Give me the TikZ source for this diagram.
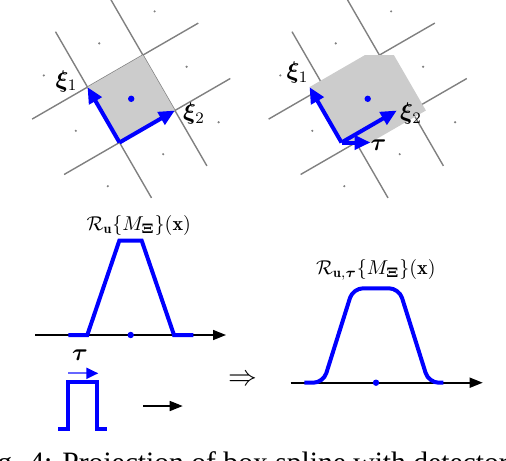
\documentclass[tikz,border=0pt]{standalone}
\usepackage{amsmath}
\usepackage{bm}
\usepackage{fontspec}
\newfontfamily\capfont{Liberation Serif}
\usetikzlibrary{calc}
\usetikzlibrary{arrows.meta}

\begin{document}
\begin{tikzpicture}[x=0.5pt,y=-0.5pt,
  vec/.style={blue,line width=\heavy,-{Triangle[length=8pt,width=7pt]}},
  axis/.style={black,line width=\thin,-{Triangle[length=6.5pt,width=5pt]}},
  curve/.style={blue,line width=\heavy},
  lattice/.style={gray,line width=\light},
  cell/.style={fill=gray!40}]

\def \heavy{2pt}
\def \light{0.7pt}
\def \thin{0.8pt}
\def \dotr{0.6pt}
\def \cdotr{1.6pt}

\useasboundingbox (0,0) rectangle (506,460);

\coordinate (xa) at (-32,-55.4);
\coordinate (xb) at (55.4,-32);
\coordinate (tau) at (29,0);

\coordinate (GL) at (119.5,142.5);
\coordinate (GR) at (356,142.5);
\coordinate (OL) at (GL);
\coordinate (OR) at ($(GR)-0.5*(tau)$);

\foreach \g in {GL,GR} {
  \foreach \k in {0,1} {
    \draw[lattice] ($(\g)+\k*(xa)-(xb)$) -- ($(\g)+\k*(xa)+2*(xb)$);
    \draw[lattice] ($(\g)+\k*(xb)-(xa)$) -- ($(\g)+\k*(xb)+2*(xa)$);
  }
}

\fill[cell] (OL) -- ($(OL)+(xb)$) -- ($(OL)+(xa)+(xb)$) -- ($(OL)+(xa)$) -- cycle;
\fill[cell] (OR) -- ($(OR)+(tau)$) -- ($(OR)+(tau)+(xb)$) -- ($(OR)+(tau)+(xa)+(xb)$)
  -- ($(OR)+(xa)+(xb)$) -- ($(OR)+(xa)$) -- cycle;

\foreach \g in {GL,GR} {
  \foreach \s in {-0.5,0.5,1.5}
    \foreach \t in {-0.5,0.5,1.5}
      \fill[gray] ($(\g)+\s*(xa)+\t*(xb)$) circle (\dotr);
  \fill[blue] ($(\g)+0.5*(xa)+0.5*(xb)$) circle (\cdotr);
}

\coordinate (AL1) at ($(OL)+(xa)$);
\coordinate (AL2) at ($(OL)+(xb)$);
\coordinate (AR1) at ($(OR)+(xa)$);
\coordinate (AR2) at ($(OR)+(xb)$);
\coordinate (AR3) at ($(OR)+(tau)$);

\draw[vec] (OL) -- (AL1);
\draw[vec] (OL) -- (AL2);
\draw[vec] (OR) -- (AR1);
\draw[vec] (OR) -- (AR2);
\draw[vec] (OR) -- (AR3);

\node[font=\large] (xiL1) at ($(AL1)+(-21,-6)$) {$\bm{\xi}_1$};
\node[font=\large] (xiL2) at ($(AL2)+(19,3)$) {$\bm{\xi}_2$};
\node[font=\large] (xiR1) at ($(AR1)+(-12,-14.6)$) {$\bm{\xi}_1$};
\node[font=\large] (xiR2) at ($(AR2)+(14,3)$) {$\bm{\xi}_2$};
\node[font=\large] (tauR) at ($(AR3)+(8,2.5)$) {$\bm{\tau}$};

\draw[axis] (35,335) -- (226,335);
\draw[curve] (68.3,335) -- (87.3,335) -- (119.3,240.7) -- (141.7,240.7) -- (174,335) -- (193.3,335);
\fill[blue] (130.7,335) circle (\cdotr);
\node (projL) at (138.7,225) {$\mathcal{R}_{\mathbf{u}}\{M_{\bm{\Xi}}\}(\mathbf{x})$};

\node[font=\large] (tauL) at (80,355) {$\bm{\tau}$};
\draw[blue!60,line width=1pt,-{Triangle[length=6pt,width=5.5pt,color=blue]}] (68.3,373.3) -- (98.3,373.3);
\draw[curve] (58.3,429.3) -- (68.3,429.3) -- (68.3,381.7) -- (97.3,381.7) -- (97.3,429.3) -- (107.3,429.3);
\draw[axis] (143.3,406) -- (182.7,406);

\node[font=\Large] (impl) at (243.3,380.7) {$\Rightarrow$};

\draw[axis] (290.7,382.7) -- (482.7,382.7);
\draw[curve,rounded corners=5pt] (304.3,382.7) -- (323.3,382.7) -- (353,288.3) -- (399,288.3) -- (428.7,382.7) -- (443.3,382.7);
\fill[blue] (376,382.7) circle (\cdotr);
\node (projR) at (375.8,270) {$\mathcal{R}_{\mathbf{u},\bm{\tau}}\{M_{\bm{\Xi}}\}(\mathbf{x})$};

\node[anchor=base west,inner sep=0pt,font=\capfont\fontsize{14.8}{17}\selectfont] (caption) at (-27.7,472.6)
  {Fig. 4: Projection of box spline with detector blur};

\end{tikzpicture}
\end{document}
